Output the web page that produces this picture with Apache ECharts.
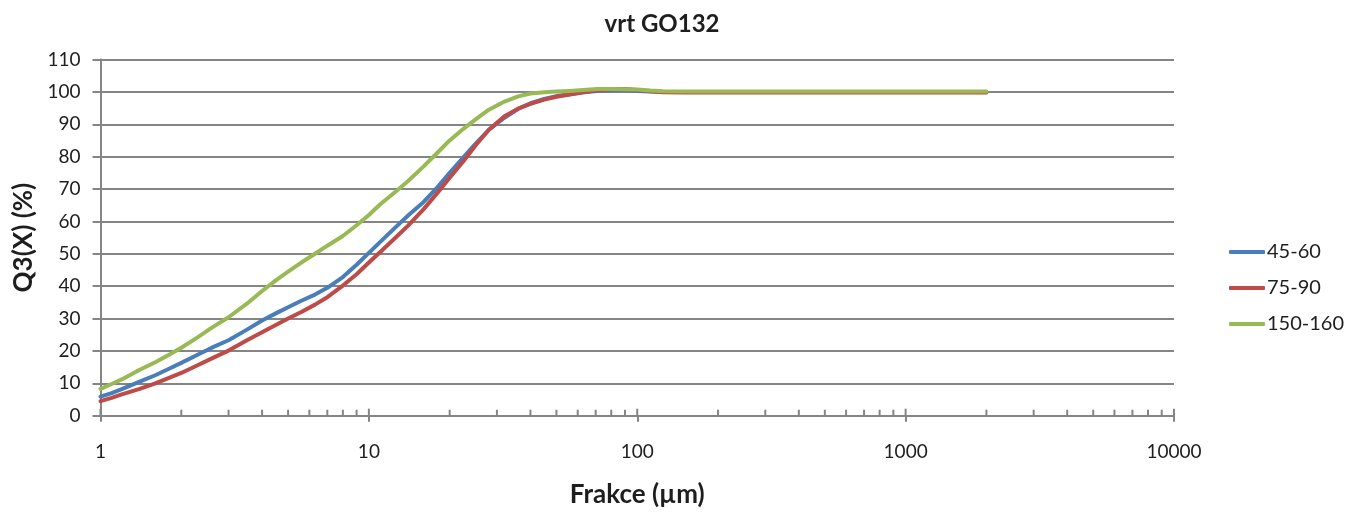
<!DOCTYPE html>
<html>
<head>
<meta charset="utf-8">
<script src="https://cdn.jsdelivr.net/npm/echarts@6/dist/echarts.min.js"></script>
<style>
  html, body { margin: 0; padding: 0; background: #fff; }
  #chart { width: 1355px; height: 514px; }
</style>
</head>
<body>
<div id="chart"></div>
<script>
// Particle size (µm), shared by all three samples
const sizes = [1, 1.1, 1.2, 1.4, 1.6, 1.8, 2, 2.3, 2.6, 3, 3.5, 4, 4.5, 5, 5.6, 6.3, 7, 8, 9, 10,
  11, 12.5, 14, 16, 18, 20, 22.5, 25, 28, 32, 36, 40, 45, 50, 56, 63, 71, 80, 90, 100,
  112, 125, 150, 200, 300, 500, 1000, 2000];

// Cumulative passing Q3(X) in %
const q45_60 = [5.9, 7.0, 8.2, 10.5, 12.5, 14.5, 16.3, 18.8, 21.0, 23.3, 26.5, 29.4, 31.6, 33.5, 35.5, 37.4, 39.5, 42.8, 46.6, 50.3,
  53.6, 58.0, 61.8, 66.0, 70.5, 75.0, 79.8, 84.0, 88.3, 92.0, 94.8, 96.5, 97.8, 98.7, 99.3, 99.9, 100.3, 100.5, 100.5, 100.3,
  100.1, 100.0, 100.0, 100.0, 100.0, 100.0, 100.0, 100.0];
const q75_90 = [4.5, 5.5, 6.6, 8.3, 10.0, 11.7, 13.2, 15.6, 17.7, 20.1, 23.2, 25.8, 28.0, 30.0, 32.0, 34.3, 36.6, 40.2, 43.7, 47.3,
  50.5, 54.8, 58.7, 63.8, 68.8, 73.5, 78.6, 83.5, 88.3, 92.5, 94.8, 96.3, 97.6, 98.5, 99.2, 99.9, 100.5, 100.8, 100.9, 100.6,
  100.2, 99.9, 99.8, 99.8, 99.8, 99.8, 99.8, 99.8];
const q150_160 = [8.3, 9.8, 11.2, 14.2, 16.5, 18.8, 21.0, 24.2, 27.2, 30.4, 34.5, 38.5, 41.8, 44.5, 47.3, 50.0, 52.5, 55.5, 58.8, 62.0,
  65.2, 69.0, 72.5, 77.0, 81.2, 85.0, 88.6, 91.5, 94.5, 97.0, 98.6, 99.5, 99.9, 100.1, 100.3, 100.6, 100.9, 100.9, 100.8, 100.7,
  100.4, 100.2, 100.1, 100.1, 100.1, 100.1, 100.1, 100.1];

const seriesNames = ['45-60', '75-90', '150-160'];
const seriesColors = ['#4a7ebb', '#be4b48', '#98b954'];
const seriesValues = [q45_60, q75_90, q150_160];

// Axis ticks on the log axis: decades get a crossing tick, 2..9 get a short inner tick
const decades = [1, 10, 100, 1000, 10000];
const axisTicks = [];
decades.forEach(function (d, i) {
  axisTicks.push([d, 0, 1]);
  if (i < decades.length - 1) {
    for (let m = 2; m <= 9; m++) axisTicks.push([d * m, 0, 0]);
  }
});

const FONT = 'Lato';
const GRID = '#858585';
const TEXT = '#1e1e1e';

const chart = echarts.init(document.getElementById('chart'), null, { renderer: 'canvas' });

const lineSeries = seriesNames.map(function (name, i) {
  return {
    name: name,
    type: 'line',
    data: sizes.map(function (x, k) { return [x, seriesValues[i][k]]; }),
    showSymbol: false,
    symbol: 'none',
    lineStyle: { color: seriesColors[i], width: 4, cap: 'round', join: 'round' },
    itemStyle: { color: seriesColors[i] },
    z: 3 + i
  };
});

chart.setOption({
  animation: false,
  backgroundColor: '#ffffff',
  title: {
    text: 'vrt GO132',
    left: 657,
    top: 7,
    textAlign: 'center',
    textStyle: { fontFamily: FONT, fontWeight: 'bold', fontSize: 24, color: TEXT }
  },
  legend: {
    orient: 'vertical',
    left: 1224,
    top: 237,
    data: seriesNames,
    icon: 'roundRect',
    itemWidth: 36,
    itemHeight: 4,
    itemGap: 16,
    textStyle: { fontFamily: FONT, fontSize: 20, lineHeight: 20, color: TEXT, padding: [0, 0, 0, -3] }
  },
  grid: { left: 100.5, right: 181, top: 59.5, bottom: 98.3, containLabel: false },
  xAxis: {
    type: 'log',
    logBase: 10,
    min: 1,
    max: 10000,
    name: 'Frakce (µm)',
    nameLocation: 'middle',
    nameGap: 66,
    nameTextStyle: { fontFamily: FONT, fontWeight: 'bold', fontSize: 26, color: TEXT },
    axisLine: { lineStyle: { color: GRID, width: 2 } },
    axisTick: { show: true, inside: false, length: 6, lineStyle: { color: GRID, width: 2 } },
    axisLabel: {
      fontFamily: FONT, fontSize: 19, color: TEXT, margin: 27,
      formatter: function (v) { return String(Math.round(v)); }
    },
    splitLine: { show: false },
    minorTick: { show: false }
  },
  yAxis: {
    type: 'value',
    min: 0,
    max: 110,
    interval: 10,
    name: 'Q3(X) (%)',
    nameLocation: 'middle',
    nameGap: 63,
    nameTextStyle: { fontFamily: FONT, fontWeight: 'bold', fontSize: 26, color: TEXT },
    axisLine: { show: true, lineStyle: { color: GRID, width: 2 } },
    axisTick: { show: true, inside: false, length: 8, lineStyle: { color: GRID, width: 2 } },
    axisLabel: { fontFamily: FONT, fontSize: 19, color: TEXT, margin: 20 },
    splitLine: { show: true, lineStyle: { color: GRID, width: 2 } }
  },
  series: lineSeries.concat([{
    name: 'axis-ticks',
    type: 'custom',
    silent: true,
    clip: false,
    z: 2,
    data: axisTicks,
    encode: { x: 0, y: 1 },
    renderItem: function (params, api) {
      const p = api.coord([api.value(0), 0]);
      const up = api.value(2) ? 7 : 6;
      return {
        type: 'line',
        shape: { x1: p[0], y1: p[1], x2: p[0], y2: p[1] - up },
        style: { stroke: GRID, lineWidth: 2 }
      };
    }
  }])
});
</script>
</body>
</html>
